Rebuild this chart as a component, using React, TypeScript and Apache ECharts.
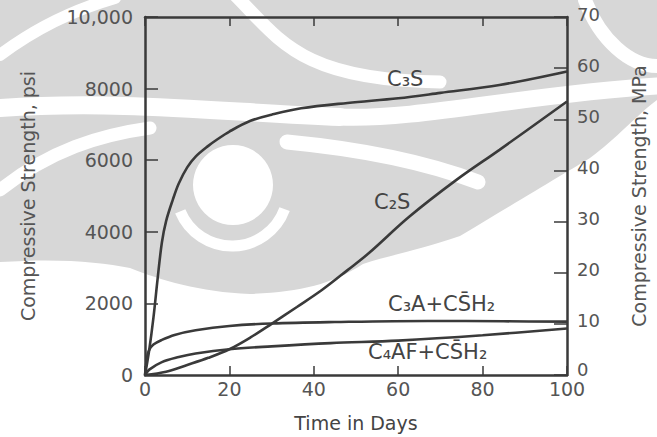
import React, { useEffect, useRef } from "react";
import * as echarts from "echarts";

// ---- data ----
const c3sDays = [0, 1, 2, 3, 4, 5, 6.6, 8, 10, 12, 15, 17, 20, 25, 30, 37, 48, 60, 70, 84, 100];
const c3sPsi = [0, 700, 1600, 2700, 3700, 4300, 4900, 5350, 5800, 6100, 6400, 6570, 6800, 7100, 7270, 7450, 7600, 7730, 7880, 8100, 8480];

const c2sDays = [0, 5, 10, 15, 20, 25, 30, 36, 42, 48, 53, 62.6, 73.8, 84, 100];
const c2sPsi = [0, 90, 280, 480, 720, 1050, 1430, 1900, 2380, 2930, 3400, 4420, 5450, 6290, 7640];

const c3aDays = [0, 0.5, 1, 2, 4, 7, 12, 20, 30, 45, 67, 85, 100];
const c3aPsi = [0, 500, 700, 850, 980, 1120, 1250, 1370, 1440, 1480, 1510, 1500, 1490];

const c4afDays = [0, 1, 4, 8, 12, 20, 30, 44, 60, 80, 100];
const c4afPsi = [0, 150, 360, 500, 600, 720, 800, 890, 960, 1110, 1300];

const seriesNames = ["C₃S", "C₂S", "C₃A+CS̄H₂", "C₄AF+CS̄H₂"];
const xTitle = "Time in Days";
const yLeftTitle = "Compressive Strength, psi";
const yRightTitle = "Compressive Strength, MPa";

const FONT = "DejaVu Sans";
const INK = "#3a3a3a";
const LABEL = "#555555";
const WM = "#d7d7d7";

const zip = (xs: number[], ys: number[]) => xs.map((x, i) => [x, ys[i]]);

let registered = false;
function registerShapes() {
  if (registered) return;
  registered = true;
  const d =
    "M0,0 L657,0 L657,100 C640,112 615,140 590,158 C570,170 520,200 460,236 C420,250 390,255 363,264 C330,285 300,292 250,294 C200,292 160,280 130,268 C100,262 60,258 0,262 Z";
  echarts.graphic.registerShape("wmBase", echarts.graphic.extendPath(d, {}));
}

export default function App() {
  const ref = useRef<HTMLDivElement>(null);
  useEffect(() => {
    if (!ref.current) return;
    registerShapes();
    const chart = echarts.init(ref.current, undefined, { renderer: "svg" });
    const lineStyle = { color: INK, width: 2.6 };
    const mkSeries = (name: string, xs: number[], ys: number[]) => ({
      name,
      type: "line",
      data: zip(xs, ys),
      showSymbol: false,
      smooth: 0.35,
      lineStyle,
      z: 5,
    });
    const axisLine = { show: true, onZero: false, lineStyle: { color: INK, width: 2.5 } };
    const wmStroke = (x1: number, y1: number, c1x: number, c1y: number, c2x: number, c2y: number, x2: number, y2: number, w: number) => ({
      type: "bezierCurve",
      z: -10,
      silent: true,
      shape: { x1, y1, cpx1: c1x, cpy1: c1y, cpx2: c2x, cpy2: c2y, x2, y2 },
      style: { stroke: "#ffffff", lineWidth: w, fill: null, lineCap: "round" },
    });
    const labelText = (text: string, x: number, y: number) => ({
      type: "text",
      x,
      y,
      z: 10,
      style: { text, fill: "#444", font: `21px "${FONT}"`, textVerticalAlign: "top" },
    });
    chart.setOption({
      animation: false,
      backgroundColor: "#ffffff",
      textStyle: { fontFamily: FONT },
      grid: { left: 145, right: 90, top: 17, bottom: 62 },
      xAxis: [
        {
          type: "value",
          min: 0,
          max: 100,
          interval: 20,
          position: "bottom",
          name: xTitle,
          nameLocation: "middle",
          nameGap: 38,
          nameTextStyle: { fontSize: 19, color: "#444", fontFamily: FONT },
          axisLine,
          axisTick: { show: true, inside: true, length: 9, lineStyle: { color: INK, width: 1.5 } },
          axisLabel: { fontSize: 19, color: LABEL, margin: 4, fontFamily: FONT },
          splitLine: { show: false },
        },
        {
          type: "value",
          min: 0,
          max: 100,
          interval: 20,
          position: "top",
          axisLine,
          axisTick: { show: true, inside: true, length: 9, lineStyle: { color: INK, width: 1.5 } },
          axisLabel: { show: false },
          splitLine: { show: false },
        },
      ],
      yAxis: [
        {
          type: "value",
          min: 0,
          max: 10000,
          interval: 2000,
          position: "left",
          name: yLeftTitle,
          nameLocation: "middle",
          nameRotate: 90,
          nameGap: 108,
          nameTextStyle: { fontSize: 19, color: LABEL, fontFamily: FONT },
          axisLine,
          axisTick: { show: true, inside: true, length: 13, lineStyle: { color: INK, width: 1.5 } },
          axisLabel: {
            fontSize: 19,
            color: LABEL,
            margin: 12,
            fontFamily: FONT,
            formatter: (v: number) => (v === 10000 ? "10,000" : String(v)),
          },
          splitLine: { show: false },
        },
        {
          type: "value",
          min: 0,
          max: 70,
          interval: 10,
          position: "right",
          name: yRightTitle,
          nameLocation: "middle",
          nameRotate: 90,
          nameGap: 62,
          nameTextStyle: { fontSize: 19, color: LABEL, fontFamily: FONT },
          axisLine,
          axisTick: { show: true, inside: true, length: 13, lineStyle: { color: INK, width: 1.5 } },
          axisLabel: {
            fontSize: 18,
            color: LABEL,
            margin: 10,
            fontFamily: FONT,
            verticalAlign: "bottom",
            lineHeight: 6,
            formatter: (v: number) => (v === 0 ? "{z|0}" : String(v)),
            rich: { z: { fontSize: 18, color: LABEL, fontFamily: FONT, padding: [0, 0, 6, 0] } },
          },
          splitLine: { show: false },
        },
      ],
      graphic: [
        { type: "wmBase", x: 0, y: 0, z: -20, silent: true, style: { fill: WM } },
        wmStroke(0, 108, 120, 100, 220, 112, 340, 117, 18),
        wmStroke(340, 117, 420, 120, 520, 95, 657, 86, 17),
        wmStroke(235, -5, 280, 40, 300, 80, 440, 82, 13),
        wmStroke(0, 55, 40, 25, 80, 8, 115, -2, 12),
        wmStroke(0, 190, 50, 150, 100, 135, 150, 128, 13),
        wmStroke(287, 142, 350, 148, 420, 160, 478, 182, 15),
        wmStroke(585, 0, 600, 40, 630, 66, 657, 66, 14),
        {
          type: "arc",
          z: -10,
          silent: true,
          shape: { cx: 232, cy: 190, r: 56, startAngle: 0.35, endAngle: 2.75 },
          style: { stroke: "#ffffff", lineWidth: 11, fill: null },
        },
        {
          type: "circle",
          z: -10,
          silent: true,
          shape: { cx: 233, cy: 185, r: 40 },
          style: { fill: "#ffffff" },
        },
        labelText(seriesNames[0], 387, 68),
        labelText(seriesNames[1], 374, 191),
        labelText(seriesNames[2], 388, 293),
        labelText(seriesNames[3], 368, 341),
      ],
      series: [
        mkSeries(seriesNames[0], c3sDays, c3sPsi),
        mkSeries(seriesNames[1], c2sDays, c2sPsi),
        mkSeries(seriesNames[2], c3aDays, c3aPsi),
        mkSeries(seriesNames[3], c4afDays, c4afPsi),
      ],
    });
    return () => chart.dispose();
  }, []);
  return <div ref={ref} style={{ width: 657, height: 437, position: "fixed", left: 0, top: 0 }} />;
}
